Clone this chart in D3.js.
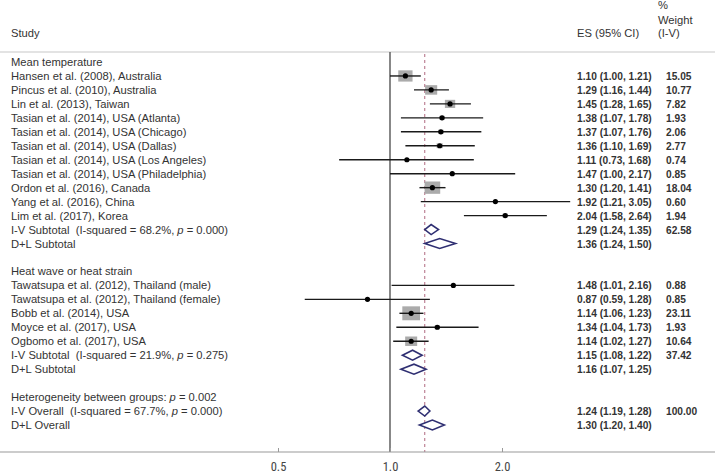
<!DOCTYPE html>
<html>
<head>
<meta charset="utf-8">
<script src="https://cdn.jsdelivr.net/npm/d3@7"></script>
<style>
  html, body { margin: 0; padding: 0; background: #fff; }
  svg { display: block; }
  text { white-space: pre; }
</style>
</head>
<body>
<svg id="chart" width="715" height="474"></svg>
<script>
// ---- data ----
const rowLabels = [
  "Mean temperature",
  "Hansen et al. (2008), Australia",
  "Pincus et al. (2010), Australia",
  "Lin et al. (2013), Taiwan",
  "Tasian et al. (2014), USA (Atlanta)",
  "Tasian et al. (2014), USA (Chicago)",
  "Tasian et al. (2014), USA (Dallas)",
  "Tasian et al. (2014), USA (Los Angeles)",
  "Tasian et al. (2014), USA (Philadelphia)",
  "Ordon et al. (2016), Canada",
  "Yang et al. (2016), China",
  "Lim et al. (2017), Korea",
  "I-V Subtotal  (I-squared = 68.2%, |p| = 0.000)",
  "D+L Subtotal",
  "",
  "Heat wave or heat strain",
  "Tawatsupa et al. (2012), Thailand (male)",
  "Tawatsupa et al. (2012), Thailand (female)",
  "Bobb et al. (2014), USA",
  "Moyce et al. (2017), USA",
  "Ogbomo et al. (2017), USA",
  "I-V Subtotal  (I-squared = 21.9%, |p| = 0.275)",
  "D+L Subtotal",
  "",
  "Heterogeneity between groups: |p| = 0.002",
  "I-V Overall  (I-squared = 67.7%, |p| = 0.000)",
  "D+L Overall"
];
// row kind: h = heading, s = study, d = pooled diamond, b = blank
const rowKinds = ["h","s","s","s","s","s","s","s","s","s","s","s","d","d","b",
                  "h","s","s","s","s","s","d","d","b","h","d","d"];
const es  = [null,1.10,1.29,1.45,1.38,1.37,1.36,1.11,1.47,1.30,1.92,2.04,1.29,1.36,null,
             null,1.48,0.87,1.14,1.34,1.14,1.15,1.16,null,null,1.24,1.30];
const ciLow  = [null,1.00,1.16,1.28,1.07,1.07,1.10,0.73,1.00,1.20,1.21,1.58,1.24,1.24,null,
             null,1.01,0.59,1.06,1.04,1.02,1.08,1.07,null,null,1.19,1.20];
const ciHigh = [null,1.21,1.44,1.65,1.78,1.76,1.69,1.68,2.17,1.41,3.05,2.64,1.35,1.50,null,
             null,2.16,1.28,1.23,1.73,1.27,1.22,1.25,null,null,1.28,1.40];
const weights = [null,15.05,10.77,7.82,1.93,2.06,2.77,0.74,0.85,18.04,0.60,1.94,62.58,null,null,
             null,0.88,0.85,23.11,1.93,10.64,37.42,null,null,null,100.00,null];
const xTicks = [0.5, 1.0, 2.0];
const overallES = 1.24;

// ---- layout ----
const W = 715, H = 474;
const svg = d3.select("#chart");
const font = "'Liberation Sans', Arial, sans-serif";
const x = d3.scaleLog().domain([0.5, 2]).range([278, 502]);
const y = d3.scaleLinear().domain([0, rowLabels.length - 1]).range([62, 425]);
const topY = 52, axisY = 452;

// header line & axis line
svg.append("line").attr("x1", 0).attr("x2", W).attr("y1", topY).attr("y2", topY)
  .attr("stroke", "#c8c8c8").attr("stroke-width", 1.2);

// headers
const hdr = svg.append("g").attr("font-family", font).attr("font-size", 11.2).attr("fill", "#333");
hdr.append("text").attr("x", 11).attr("y", 37).text("Study");
hdr.append("text").attr("x", 577).attr("y", 37).text("ES (95% CI)");
hdr.append("text").attr("x", 658).attr("y", 9).text("%");
hdr.append("text").attr("x", 658).attr("y", 24).text("Weight");
hdr.append("text").attr("x", 658).attr("y", 37).text("(I-V)");

// row labels (with italic p)
const lab = svg.append("g").attr("font-family", font).attr("font-size", 11.2).attr("fill", "#333");
rowLabels.forEach((s, i) => {
  if (!s) return;
  const t = lab.append("text").attr("x", 11).attr("y", y(i) + 4);
  s.split("|").forEach((part, k) => {
    const ts = t.append("tspan").text(part);
    if (k % 2 === 1) ts.attr("font-style", "italic");
  });
});

// reference lines
svg.append("line").attr("x1", x(1)).attr("x2", x(1)).attr("y1", topY).attr("y2", axisY)
  .attr("stroke", "#555").attr("stroke-width", 1.4);
svg.append("line").attr("x1", x(overallES)).attr("x2", x(overallES)).attr("y1", topY + 2).attr("y2", axisY)
  .attr("stroke", "#b06a80").attr("stroke-width", 1).attr("stroke-dasharray", "3,3");

const idx = d3.range(rowLabels.length);
const studies = idx.filter(i => rowKinds[i] === "s");
const pooled = idx.filter(i => rowKinds[i] === "d");

// weight squares
const k = 2.9;
svg.append("g").selectAll("rect").data(studies).join("rect")
  .attr("x", i => x(es[i]) - k * Math.sqrt(weights[i]) * 1.27 / 2)
  .attr("y", i => y(i) - k * Math.sqrt(weights[i]) / 2)
  .attr("width", i => k * Math.sqrt(weights[i]) * 1.27)
  .attr("height", i => k * Math.sqrt(weights[i]))
  .attr("fill", "#ababab");

// CI lines
svg.append("g").selectAll("line").data(studies).join("line")
  .attr("x1", i => x(ciLow[i])).attr("x2", i => x(ciHigh[i]))
  .attr("y1", i => y(i)).attr("y2", i => y(i))
  .attr("stroke", "#1a1a1a").attr("stroke-width", 1.4);

// point estimates
svg.append("g").selectAll("circle").data(studies).join("circle")
  .attr("cx", i => x(es[i])).attr("cy", i => y(i)).attr("r", 2.6)
  .attr("fill", "#000");

// diamonds
const dh = 5;
svg.append("g").selectAll("path").data(pooled).join("path")
  .attr("d", i => `M${x(ciLow[i])},${y(i)} L${x(es[i])},${y(i) - dh} L${x(ciHigh[i])},${y(i)} L${x(es[i])},${y(i) + dh} Z`)
  .attr("fill", "#fff").attr("stroke", "#2f2f72").attr("stroke-width", 1.6);

// ES column and weights
const fmt = d3.format(".2f");
const val = svg.append("g").attr("font-family", font).attr("font-size", 10.2)
  .attr("font-weight", "bold").attr("fill", "#333");
idx.filter(i => es[i] != null).forEach(i => {
  val.append("text").attr("x", 577).attr("y", y(i) + 4)
    .text(`${fmt(es[i])} (${fmt(ciLow[i])}, ${fmt(ciHigh[i])})`);
  if (weights[i] != null) {
    val.append("text").attr("x", 666).attr("y", y(i) + 4).text(fmt(weights[i]));
  }
});

// axis
svg.append("line").attr("x1", 0).attr("x2", W).attr("y1", axisY).attr("y2", axisY)
  .attr("stroke", "#999").attr("stroke-width", 1.2);
const axis = d3.axisBottom(x).tickValues(xTicks).tickFormat(d3.format(".1f"))
  .tickSizeInner(-4).tickSizeOuter(0).tickPadding(10);
const ag = svg.append("g").attr("transform", `translate(0,${axisY})`).call(axis);
ag.select(".domain").remove();
ag.selectAll(".tick line").attr("stroke", "#999");
ag.selectAll(".tick text")
  .attr("font-family", "'Liberation Sans Narrow', 'Roboto', sans-serif")
  .attr("font-stretch", "condensed")
  .attr("font-size", 12.5).attr("fill", "#444");
</script>
</body>
</html>
